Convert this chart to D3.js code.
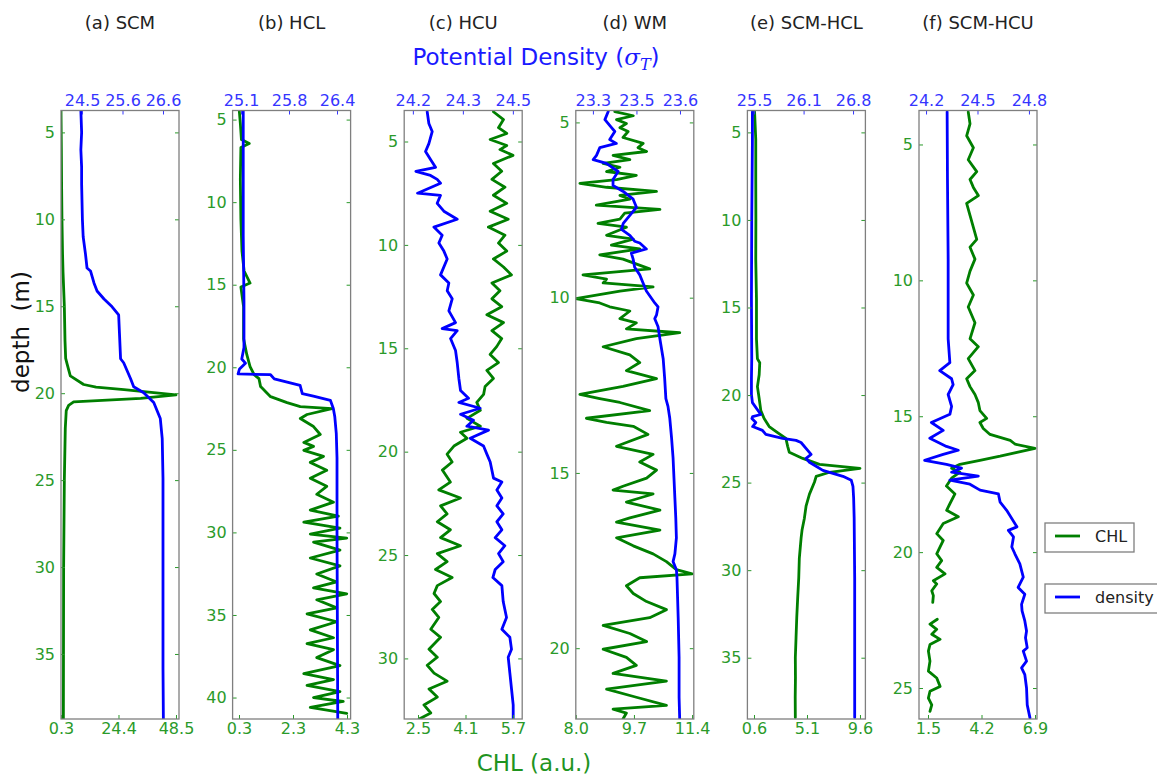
<!DOCTYPE html>
<html>
<head>
<meta charset="utf-8">
<script src="https://cdn.jsdelivr.net/npm/d3@7"></script>
<style>
body { margin: 0; background: #fff; }
svg text { font-family: "DejaVu Sans", sans-serif; }
</style>
</head>
<body>
<svg id="chart" width="1157" height="778"></svg>
<script>
"use strict";

// ---- data: [depth (m), value] ----
const scmChl = [[3.74,0.3],[6,0.45],[8,0.55],[10,0.7],[12,0.95],[13,1.14],[15,1.7],[17,1.98],[18,2.26],[18.3,2.82],[19.0,4.2],[19.5,9.8],[19.65,15],[19.8,26.7],[20.1,48.5],[20.3,33.7],[20.5,5.6],[20.7,3.5],[21,2.5],[22,2.1],[25,1.7],[30,1.4],[38.74,1.3]];
const scmDen = [[3.74,24.47],[5,24.49],[6,24.47],[7,24.49],[8,24.49],[10,24.51],[11,24.53],[12,24.59],[12.8,24.63],[12.97,24.72],[13.66,24.81],[14.12,24.89],[14.58,25.07],[15.03,25.28],[15.49,25.45],[16.5,25.47],[18.02,25.5],[18.25,25.58],[19.17,25.76],[19.63,25.84],[19.97,26.1],[20.54,26.36],[21.46,26.53],[22.61,26.58],[24.9,26.6],[30,26.6],[35.8,26.6],[38.74,26.61]];

const hclChl = [[4.45,0.31],[5.24,0.35],[6.21,0.39],[6.45,0.68],[6.69,0.37],[8.62,0.35],[11.03,0.37],[12.97,0.41],[14.17,0.49],[14.9,0.71],[15.14,0.37],[16.34,0.47],[18.28,0.47],[19.24,0.59],[19.96,0.71],[20.45,0.86],[20.69,1.04],[21.17,1.1],[21.78,1.47],[22.14,2.08],[22.38,2.57],[22.5,3.74],[22.86,2.82],[23.1,2.57],[23.59,3.06],[24.07,3.31],[24.55,2.7],[24.79,3.06],[25.03,2.7],[25.4,3.43],[25.76,2.94],[26.24,3.55],[26.72,2.94],[27.21,3.55],[27.69,3.18],[28.17,3.8],[28.65,2.94],[29.02,3.98],[29.38,2.7],[29.74,4.04],[30.1,2.94],[30.34,4.29],[30.59,3.06],[31.07,4.04],[31.55,2.94],[32.03,4.04],[32.52,3.18],[33.0,3.92],[33.36,3.06],[33.72,4.29],[34.08,3.18],[34.57,3.92],[34.93,2.82],[35.41,3.92],[35.9,2.94],[36.38,3.8],[36.74,2.82],[37.1,3.8],[37.58,3.18],[38.07,4.04],[38.55,2.7],[38.91,3.8],[39.27,2.82],[39.64,4.04],[40.0,3.06],[40.24,4.16],[40.6,2.94],[40.96,4.29]];
const hclDen = [[4.45,25.13],[8,25.13],[12,25.13],[16,25.14],[18.8,25.14],[19.5,25.11],[19.75,25.16],[20.1,25.08],[20.4,25.06],[20.45,25.5],[20.7,25.55],[21.1,25.9],[21.6,25.93],[21.75,26.08],[22.0,26.31],[22.5,26.35],[23,26.37],[24,26.39],[25.5,26.4],[30,26.4],[41.3,26.41]];

const hcuChl = [[3.56,5.04],[3.94,5.38],[4.33,5.21],[4.61,5.49],[4.9,4.93],[5.19,5.49],[5.39,5.26],[5.67,5.7],[6.06,5.04],[6.44,5.32],[6.83,4.99],[7.21,5.43],[7.6,5.04],[7.99,5.49],[8.37,4.93],[8.76,5.54],[9.14,4.87],[9.53,5.43],[9.91,5.21],[10.3,5.49],[10.68,5.04],[11.07,5.38],[11.45,5.65],[11.84,4.99],[12.22,5.26],[12.61,4.99],[12.99,5.32],[13.38,4.82],[13.76,5.38],[14.15,4.99],[14.53,5.32],[14.92,5.15],[15.3,4.93],[15.69,5.21],[16.07,4.82],[16.46,5.04],[16.85,4.76],[17.23,4.71],[17.62,4.48],[18.0,4.6],[18.39,4.15],[18.77,4.6],[19.06,3.93],[19.35,4.15],[19.73,3.71],[20.12,3.48],[20.5,3.65],[20.89,3.32],[21.47,3.59],[21.85,3.2],[22.24,3.93],[22.62,3.26],[23.01,3.48],[23.39,3.15],[23.78,3.59],[24.16,3.26],[24.55,3.93],[24.93,3.15],[25.32,3.48],[25.7,3.09],[26.09,3.65],[26.48,3.15],[26.86,3.04],[27.25,3.26],[27.63,2.98],[28.02,3.2],[28.59,2.93],[28.98,3.26],[29.56,2.87],[29.94,3.15],[30.33,2.81],[30.71,3.04],[31.1,3.48],[31.48,2.87],[31.87,3.15],[32.25,2.7],[32.64,2.93],[32.93,2.54]];
const hcuDen = [[3.56,24.243],[4.13,24.248],[4.52,24.258],[5.1,24.248],[5.48,24.238],[5.87,24.253],[6.25,24.268],[6.44,24.209],[6.64,24.253],[6.83,24.273],[7.02,24.283],[7.5,24.214],[7.6,24.283],[7.99,24.273],[8.37,24.293],[8.76,24.333],[9.14,24.263],[9.53,24.288],[9.91,24.278],[10.3,24.293],[10.68,24.303],[11.45,24.283],[11.84,24.308],[12.22,24.303],[12.61,24.318],[13.19,24.308],[13.76,24.328],[14.05,24.288],[14.15,24.333],[14.53,24.313],[15.11,24.328],[15.69,24.333],[16.46,24.338],[17.04,24.343],[17.42,24.367],[17.62,24.338],[17.9,24.402],[18.19,24.343],[18.48,24.382],[18.77,24.362],[18.96,24.427],[19.35,24.372],[19.73,24.412],[20.12,24.422],[20.5,24.432],[21.28,24.442],[21.47,24.467],[21.85,24.452],[22.24,24.467],[22.62,24.452],[23.01,24.471],[23.39,24.452],[23.78,24.467],[24.16,24.447],[24.55,24.476],[24.93,24.457],[25.32,24.471],[25.7,24.447],[26.09,24.44],[26.48,24.467],[27.25,24.471],[28.02,24.481],[28.59,24.467],[28.98,24.491],[29.56,24.496],[29.94,24.486],[30.71,24.491],[31.48,24.496],[32.25,24.501],[32.93,24.501]];

const wmChl = [[4.69,9.14],[4.81,9.68],[4.92,9.19],[5.03,9.48],[5.15,9.29],[5.26,9.53],[5.43,9.38],[5.6,9.97],[5.72,9.82],[5.83,10.07],[5.94,9.09],[6.06,9.58],[6.17,8.8],[6.28,9.29],[6.4,8.9],[6.51,9.77],[6.63,9.19],[6.74,8.12],[6.85,8.9],[6.97,10.36],[7.08,9.29],[7.19,9.58],[7.36,8.6],[7.48,10.46],[7.59,9.43],[7.76,9.29],[7.88,8.65],[7.99,9.48],[8.22,8.9],[8.33,9.68],[8.5,9.04],[8.61,9.87],[8.78,8.7],[8.9,9.38],[9.18,10.16],[9.35,8.21],[9.47,8.9],[9.58,8.8],[9.69,10.26],[9.81,9.29],[10.03,8.0],[10.15,8.7],[10.26,8.99],[10.38,9.58],[10.6,9.29],[10.72,9.77],[10.89,9.48],[11.0,11.04],[11.17,9.77],[11.4,8.8],[11.63,9.58],[11.85,9.87],[12.08,9.48],[12.31,10.36],[12.53,9.38],[12.76,8.12],[12.88,8.7],[12.99,9.29],[13.22,10.16],[13.44,8.31],[13.56,8.9],[13.67,9.68],[13.9,10.11],[14.13,9.48],[14.24,9.19],[14.47,10.26],[14.69,9.87],[14.92,10.36],[15.15,10.07],[15.38,9.38],[15.49,9.09],[15.6,10.26],[15.83,9.48],[16.06,10.46],[16.28,9.58],[16.4,9.19],[16.63,10.46],[16.85,9.19],[17.08,9.68],[17.31,10.26],[17.53,10.65],[17.76,10.94],[17.88,11.4],[17.99,9.87],[18.22,9.48],[18.44,9.68],[18.67,10.07],[18.9,10.65],[19.13,10.16],[19.35,8.8],[19.58,9.58],[19.81,10.07],[20.03,8.8],[20.26,9.48],[20.49,9.77],[20.72,9.09],[20.94,10.65],[21.17,8.9],[21.4,9.77],[21.63,10.65],[21.74,9.09],[21.85,9.48],[22.02,9.38]];
const wmDen = [[4.69,23.381],[4.92,23.37],[5.15,23.392],[5.26,23.403],[5.49,23.386],[5.6,23.408],[5.72,23.353],[5.94,23.342],[6.06,23.331],[6.17,23.375],[6.4,23.414],[6.63,23.397],[6.8,23.397],[6.97,23.431],[7.19,23.464],[7.42,23.475],[7.65,23.453],[7.88,23.431],[8.05,23.425],[8.22,23.453],[8.39,23.469],[8.44,23.486],[8.61,23.508],[8.73,23.458],[8.9,23.464],[9.13,23.469],[9.35,23.486],[9.58,23.497],[9.81,23.508],[10.15,23.536],[10.26,23.547],[10.49,23.542],[10.6,23.536],[10.83,23.547],[11.17,23.553],[11.74,23.564],[12.31,23.569],[12.88,23.573],[13.1,23.58],[13.44,23.586],[14.01,23.592],[14.58,23.597],[15.15,23.6],[15.72,23.603],[16.28,23.606],[16.85,23.608],[17.31,23.603],[17.53,23.597],[17.76,23.608],[17.99,23.61],[18.56,23.612],[19.13,23.614],[20.26,23.617],[21.4,23.617],[22.02,23.619]];

const scmHclChl = [[3.82,0.65],[5.41,0.75],[7.69,0.75],[9.96,0.76],[12.24,0.75],[14.51,0.81],[16.79,0.81],[17.93,0.89],[18.15,1.09],[18.84,1.04],[19.52,0.89],[20.2,1.04],[20.89,1.18],[21.34,1.46],[21.8,1.89],[22.14,2.6],[22.48,3.31],[22.93,3.46],[23.27,3.6],[23.62,4.74],[23.96,6.16],[24.19,9.6],[24.41,7.02],[24.64,5.88],[24.98,5.73],[25.66,5.31],[26.35,5.02],[27.03,4.88],[27.71,4.68],[28.17,4.6],[29.31,4.45],[30.44,4.4],[31.58,4.31],[32.72,4.23],[33.86,4.17],[35.0,4.11],[36.13,4.12],[37.27,4.1],[38.41,4.11]];
const scmHclDen = [[3.82,25.457],[5.41,25.457],[9.96,25.448],[14.51,25.444],[17.93,25.448],[19.06,25.444],[19.98,25.444],[20.43,25.457],[21.11,25.569],[21.23,25.46],[21.34,25.45],[21.57,25.502],[21.8,25.46],[22.02,25.591],[22.25,25.636],[22.48,25.86],[22.59,26.039],[22.71,26.106],[23.16,26.195],[23.39,26.24],[23.62,26.173],[23.84,26.218],[24.07,26.307],[24.3,26.397],[24.64,26.665],[24.87,26.777],[25.21,26.799],[25.89,26.808],[27.03,26.815],[30.44,26.822],[38.41,26.822]];

// null marks the missing stretch of the CHL record
const scmHcuChl = [[3.8,3.53],[4.24,3.62],[4.68,3.45],[5.12,3.79],[5.56,3.53],[6.0,3.96],[6.29,3.62],[6.58,3.79],[6.88,4.04],[7.17,3.45],[7.61,3.62],[8.05,3.79],[8.49,3.96],[8.78,3.62],[9.22,3.87],[9.66,3.62],[10.1,3.45],[10.54,3.79],[10.98,3.53],[11.56,3.87],[12.15,3.62],[12.44,4.04],[12.88,3.53],[13.32,3.87],[13.62,3.45],[13.91,3.62],[14.2,3.87],[14.5,4.04],[14.79,4.12],[15.08,4.46],[15.23,4.12],[15.45,4.29],[15.67,4.63],[15.89,5.65],[16.03,5.9],[16.18,6.9],[16.33,5.99],[16.47,5.14],[16.62,4.12],[16.77,3.11],[16.91,2.69],[17.06,3.11],[17.28,2.69],[17.57,2.43],[17.86,2.86],[18.21,2.61],[18.46,2.44],[18.7,3.03],[18.95,2.27],[19.32,1.94],[19.57,2.27],[19.81,2.11],[20.06,1.94],[20.31,2.19],[20.56,1.94],[20.8,2.36],[21.05,1.77],[21.17,1.94],[21.42,1.69],[21.6,1.77],[21.85,1.74],[22.1,null],[22.47,1.97],[22.65,1.6],[22.84,1.94],[23.02,1.69],[23.21,2.11],[23.4,1.6],[23.64,1.52],[24.01,1.6],[24.38,1.52],[24.63,1.94],[24.94,2.11],[25.12,1.6],[25.37,1.52],[25.62,1.69],[25.86,1.6]];
const scmHcuDen = [[3.8,24.323],[6.29,24.325],[9.22,24.329],[12.15,24.329],[13.03,24.339],[13.32,24.28],[13.62,24.349],[13.84,24.358],[14.2,24.329],[14.64,24.349],[14.93,24.339],[15.23,24.231],[15.52,24.3],[15.81,24.222],[16.11,24.319],[16.25,24.388],[16.4,24.3],[16.62,24.192],[16.77,24.319],[16.91,24.407],[17.06,24.349],[17.2,24.505],[17.35,24.339],[17.5,24.456],[17.72,24.515],[17.86,24.622],[18.16,24.632],[18.46,24.67],[19.07,24.73],[19.2,24.68],[19.44,24.71],[19.81,24.7],[20.06,24.718],[20.43,24.747],[20.92,24.767],[21.3,24.737],[21.55,24.776],[21.92,24.757],[22.16,24.76],[22.53,24.776],[22.9,24.786],[23.15,24.78],[23.52,24.79],[23.64,24.767],[24.01,24.786],[24.26,24.757],[24.51,24.776],[25.0,24.786],[25.62,24.79],[26.1,24.806]];

// ---- panel settings ----
const panelTitles = ["(a) SCM", "(b) HCL", "(c) HCU", "(d) WM", "(e) SCM-HCL", "(f) SCM-HCU"];
const chlSeries = [scmChl, hclChl, hcuChl, wmChl, scmHclChl, scmHcuChl];
const denSeries = [scmDen, hclDen, hcuDen, wmDen, scmHclDen, scmHcuDen];
const depthLimits = [[3.74,38.74],[4.45,41.3],[3.5,32.93],[4.66,22.02],[3.75,38.5],[3.75,26.14]];
const depthTicks = [[5,10,15,20,25,30,35],[5,10,15,20,25,30,35,40],[5,10,15,20,25,30],[5,10,15,20],[5,10,15,20,25,30,35],[5,10,15,20,25]];
const chlLimits = [[0.3,49.76],[0.063,4.433],[2.035,6.01],[8.0,11.45],[0.04,10.06],[1.046,7.0]];
const chlTicks = [[0.3,24.4,48.5],[0.3,2.3,4.3],[2.5,4.1,5.7],[8.0,9.7,11.4],[0.6,5.1,9.6],[1.5,4.2,6.9]];
const chlTickLabels = [["0.3","24.4","48.5"],["0.3","2.3","4.3"],["2.5","4.1","5.7"],["8.0","9.7","11.4"],["0.6","5.1","9.6"],["1.5","4.2","6.9"]];
const denLimits = [[23.955,27.015],[24.986,26.584],[24.174,24.528],[23.273,23.666],[25.39,26.965],[24.159,24.847]];
const denTicks = [[24.5,25.55,26.6],[25.1,25.75,26.4],[24.2,24.35,24.5],[23.33,23.475,23.62],[25.48,26.14,26.8],[24.2,24.5,24.8]];
const denTickLabels = [["24.5","25.6","26.6"],["25.1","25.8","26.4"],["24.2","24.3","24.5"],["23.3","23.5","23.6"],["25.5","26.1","26.8"],["24.2","24.5","24.8"]];
const legendLabels = ["CHL", "density"];

const chlLine = "#007f00", denLine = "#0000ff";
const chlText = "#2a9a2a", denText = "#3535ff";
const frameColor = "#7f7f7f";

const plotTop = 110.5, plotBottom = 719, plotW = 118, firstLeft = 61, step = 171.6;

const svg = d3.select("#chart");

function drawPanel(i) {
    const left = firstLeft + i * step;
    const g = svg.append("g").attr("transform", `translate(${left},0)`);
    const y = d3.scaleLinear().domain(depthLimits[i]).range([plotTop, plotBottom]);
    const xc = d3.scaleLinear().domain(chlLimits[i]).range([0, plotW]);
    const xd = d3.scaleLinear().domain(denLimits[i]).range([0, plotW]);

    g.append("clipPath").attr("id", "clip" + i)
        .append("rect").attr("x", 0).attr("y", plotTop)
        .attr("width", plotW).attr("height", plotBottom - plotTop);

    const chlPath = d3.line().defined(d => d[1] !== null).x(d => xc(d[1])).y(d => y(d[0]));
    const denPath = d3.line().x(d => xd(d[1])).y(d => y(d[0]));

    const lines = g.append("g").attr("clip-path", `url(#clip${i})`)
        .attr("fill", "none").attr("stroke-width", 2.8)
        .attr("stroke-linejoin", "round").attr("stroke-linecap", "round");
    lines.append("path").attr("d", chlPath(chlSeries[i])).attr("stroke", chlLine);
    lines.append("path").attr("d", denPath(denSeries[i])).attr("stroke", denLine);

    // axes, ticks pointing inward like matplotlib classic
    const styleAxis = (sel, tickCol, textCol) => {
        sel.select(".domain").remove();
        sel.selectAll(".tick line").attr("stroke", tickCol).attr("stroke-width", 1);
        sel.selectAll(".tick text").attr("fill", textCol).style("font-size", "16px");
    };
    g.append("g").call(d3.axisLeft(y).tickValues(depthTicks[i]).tickSize(-4).tickPadding(6).tickFormat(d3.format("d")))
        .call(s => styleAxis(s, chlText, chlText));
    g.append("g").attr("transform", `translate(${plotW},0)`)
        .call(d3.axisRight(y).tickValues(depthTicks[i]).tickSize(-4).tickFormat(""))
        .call(s => styleAxis(s, chlText, chlText));
    g.append("g").attr("transform", `translate(0,${plotBottom})`)
        .call(d3.axisBottom(xc).tickValues(chlTicks[i]).tickSize(-4).tickPadding(4)
            .tickFormat((d, k) => chlTickLabels[i][k]))
        .call(s => styleAxis(s, chlText, chlText));
    g.append("g").attr("transform", `translate(0,${plotTop})`)
        .call(d3.axisTop(xd).tickValues(denTicks[i]).tickSize(-4).tickPadding(5)
            .tickFormat((d, k) => denTickLabels[i][k]))
        .call(s => styleAxis(s, denText, denText));

    g.append("rect").attr("x", 0).attr("y", plotTop)
        .attr("width", plotW).attr("height", plotBottom - plotTop)
        .attr("fill", "none").attr("stroke", frameColor).attr("stroke-width", 1.3);

    g.append("text").attr("x", plotW / 2).attr("y", 29)
        .attr("text-anchor", "middle").style("font-size", "18px").attr("fill", "#222")
        .text(panelTitles[i]);
}

d3.range(panelTitles.length).forEach(drawPanel);

// shared axis titles
const denTitle = svg.append("text").attr("x", 536).attr("y", 65)
    .attr("text-anchor", "middle").attr("fill", "#1a1aff").style("font-size", "23px");
denTitle.append("tspan").text("Potential Density (");
denTitle.append("tspan").style("font-family", "DejaVu Serif").style("font-style", "italic").text("σ");
denTitle.append("tspan").style("font-family", "DejaVu Serif").style("font-style", "italic")
    .style("font-size", "16px").attr("dy", 5).text("T");
denTitle.append("tspan").attr("dy", -5).text(")");

svg.append("text").attr("x", 534).attr("y", 771)
    .attr("text-anchor", "middle").attr("fill", "#1f941f").style("font-size", "23px")
    .text("CHL (a.u.)");

svg.append("text").attr("transform", "translate(29,332) rotate(-90)")
    .attr("text-anchor", "middle").attr("fill", "#111").style("font-size", "23px")
    .style("white-space", "pre").text("depth  (m)");

// legends: one box per series
const legendColors = [chlLine, denLine];
const legendTops = [523, 584];
legendLabels.forEach((lab, k) => {
    const lg = svg.append("g").attr("transform", `translate(1045,${legendTops[k]})`);
    lg.append("rect").attr("width", k === 0 ? 89 : 130).attr("height", 29)
        .attr("fill", "#fff").attr("stroke", frameColor).attr("stroke-width", 1.3);
    lg.append("line").attr("x1", 10).attr("x2", 35).attr("y1", 13).attr("y2", 13)
        .attr("stroke", legendColors[k]).attr("stroke-width", 2.8);
    lg.append("text").attr("x", 50).attr("y", 19).style("font-size", "16px").attr("fill", "#222").text(lab);
});
</script>
</body>
</html>
